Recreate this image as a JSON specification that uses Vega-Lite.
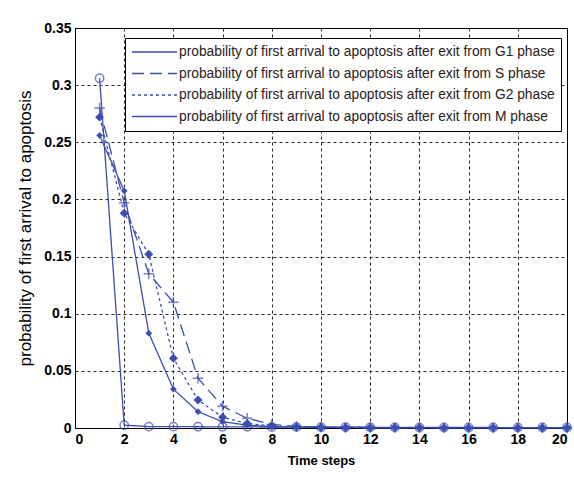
{
  "$schema": "https://vega.github.io/schema/vega-lite/v6.json",
  "width": 492,
  "height": 400,
  "autosize": {"type": "none"},
  "padding": {"left": 75, "top": 28, "right": 7, "bottom": 49},
  "background": "white",
  "config": {
    "view": {"stroke": "black", "strokeWidth": 1},
    "font": "Liberation Sans"
  },
  "data": {
    "values": [
      {"x": 1, "y": 0.306, "series": "G1"}, {"x": 2, "y": 0.0025, "series": "G1"}, {"x": 3, "y": 0.0012, "series": "G1"}, {"x": 4, "y": 0.0012, "series": "G1"}, {"x": 5, "y": 0.0011, "series": "G1"}, {"x": 6, "y": 0.001, "series": "G1"}, {"x": 7, "y": 0.001, "series": "G1"}, {"x": 8, "y": 0.0008, "series": "G1"}, {"x": 9, "y": 0.0008, "series": "G1"}, {"x": 10, "y": 0.0007, "series": "G1"}, {"x": 11, "y": 0.0007, "series": "G1"}, {"x": 12, "y": 0.0006, "series": "G1"}, {"x": 13, "y": 0.0006, "series": "G1"}, {"x": 14, "y": 0.0005, "series": "G1"}, {"x": 15, "y": 0.0005, "series": "G1"}, {"x": 16, "y": 0.0005, "series": "G1"}, {"x": 17, "y": 0.0004, "series": "G1"}, {"x": 18, "y": 0.0004, "series": "G1"}, {"x": 19, "y": 0.0004, "series": "G1"}, {"x": 20, "y": 0.0004, "series": "G1"},
      {"x": 1, "y": 0.280, "series": "S"}, {"x": 2, "y": 0.197, "series": "S"}, {"x": 3, "y": 0.135, "series": "S"}, {"x": 4, "y": 0.110, "series": "S"}, {"x": 5, "y": 0.0435, "series": "S"}, {"x": 6, "y": 0.019, "series": "S"}, {"x": 7, "y": 0.0085, "series": "S"}, {"x": 8, "y": 0.003, "series": "S"}, {"x": 9, "y": 0.0015, "series": "S"}, {"x": 10, "y": 0.0008, "series": "S"}, {"x": 11, "y": 0.0005, "series": "S"}, {"x": 12, "y": 0.0004, "series": "S"}, {"x": 13, "y": 0.0003, "series": "S"}, {"x": 14, "y": 0.0003, "series": "S"}, {"x": 15, "y": 0.0003, "series": "S"}, {"x": 16, "y": 0.0003, "series": "S"}, {"x": 17, "y": 0.0003, "series": "S"}, {"x": 18, "y": 0.0003, "series": "S"}, {"x": 19, "y": 0.0003, "series": "S"}, {"x": 20, "y": 0.0003, "series": "S"},
      {"x": 1, "y": 0.272, "series": "G2"}, {"x": 2, "y": 0.188, "series": "G2"}, {"x": 3, "y": 0.152, "series": "G2"}, {"x": 4, "y": 0.061, "series": "G2"}, {"x": 5, "y": 0.0245, "series": "G2"}, {"x": 6, "y": 0.0095, "series": "G2"}, {"x": 7, "y": 0.004, "series": "G2"}, {"x": 8, "y": 0.0018, "series": "G2"}, {"x": 9, "y": 0.001, "series": "G2"}, {"x": 10, "y": 0.0006, "series": "G2"}, {"x": 11, "y": 0.0005, "series": "G2"}, {"x": 12, "y": 0.0004, "series": "G2"}, {"x": 13, "y": 0.0004, "series": "G2"}, {"x": 14, "y": 0.0004, "series": "G2"}, {"x": 15, "y": 0.0003, "series": "G2"}, {"x": 16, "y": 0.0003, "series": "G2"}, {"x": 17, "y": 0.0003, "series": "G2"}, {"x": 18, "y": 0.0003, "series": "G2"}, {"x": 19, "y": 0.0003, "series": "G2"}, {"x": 20, "y": 0.0003, "series": "G2"},
      {"x": 1, "y": 0.256, "series": "M"}, {"x": 2, "y": 0.2075, "series": "M"}, {"x": 3, "y": 0.083, "series": "M"}, {"x": 4, "y": 0.034, "series": "M"}, {"x": 5, "y": 0.0143, "series": "M"}, {"x": 6, "y": 0.0055, "series": "M"}, {"x": 7, "y": 0.0025, "series": "M"}, {"x": 8, "y": 0.0012, "series": "M"}, {"x": 9, "y": 0.0008, "series": "M"}, {"x": 10, "y": 0.0006, "series": "M"}, {"x": 11, "y": 0.0005, "series": "M"}, {"x": 12, "y": 0.0004, "series": "M"}, {"x": 13, "y": 0.0004, "series": "M"}, {"x": 14, "y": 0.0004, "series": "M"}, {"x": 15, "y": 0.0003, "series": "M"}, {"x": 16, "y": 0.0003, "series": "M"}, {"x": 17, "y": 0.0003, "series": "M"}, {"x": 18, "y": 0.0003, "series": "M"}, {"x": 19, "y": 0.0003, "series": "M"}, {"x": 20, "y": 0.0003, "series": "M"}
    ]
  },
  "encoding": {
    "x": {
      "field": "x", "type": "quantitative",
      "scale": {"domain": [0, 20], "nice": false, "zero": false},
      "axis": {
        "title": "Time steps", "titleFont": "Liberation Sans", "titleFontSize": 13, "titleFontWeight": "bold", "titleColor": "black", "titlePadding": 8,
        "values": [0, 2, 4, 6, 8, 10, 12, 14, 16, 18, 20],
        "labelFont": "Liberation Sans", "labelFontSize": 14, "labelFontWeight": "bold", "labelColor": "black", "labelPadding": 4,
        "ticks": false, "domainColor": "black",
        "grid": true, "gridColor": "black", "gridDash": [3, 3], "gridOpacity": 0.85, "gridWidth": 1
      }
    },
    "y": {
      "field": "y", "type": "quantitative",
      "scale": {"domain": [0, 0.35], "nice": false},
      "axis": {
        "title": "probability of first arrival to apoptosis", "titleFont": "Liberation Sans", "titleFontSize": 17, "titleFontWeight": "normal", "titleColor": "black", "titlePadding": 9,
        "values": [0, 0.05, 0.1, 0.15, 0.2, 0.25, 0.3, 0.35], "format": ".2~f",
        "labelFont": "Liberation Sans", "labelFontSize": 14, "labelFontWeight": "bold", "labelColor": "black", "labelPadding": 4,
        "ticks": false, "domainColor": "black",
        "grid": true, "gridColor": "black", "gridDash": [3, 3], "gridOpacity": 0.85, "gridWidth": 1
      }
    }
  },
  "layer": [
    {
      "mark": {"type": "line", "color": "#3b4db0", "strokeWidth": 1.3},
      "encoding": {
        "detail": {"field": "series"},
        "strokeDash": {
          "field": "series", "type": "nominal",
          "scale": {"domain": ["G1", "S", "G2", "M"], "range": [[1, 0], [12, 6], [3, 3], [1, 0]]},
          "legend": {
            "title": null, "orient": "none", "legendX": 50, "legendY": 10,
            "labelExpr": "'probability of first arrival to apoptosis after exit from ' + datum.label + ' phase'",
            "labelLimit": 0,
            "symbolType": "stroke", "symbolSize": 2025, "symbolStrokeWidth": 1.3, "symbolStrokeColor": "#3b4db0",
            "clipHeight": 16,
            "labelFont": "Liberation Sans", "labelFontSize": 13.8, "labelColor": "#2a2018", "labelOffset": 1,
            "fillColor": "white", "strokeColor": "black", "padding": 6, "rowPadding": 5.5
          }
        }
      }
    },
    {
      "transform": [{"filter": "datum.series === 'G1' || datum.series === 'S'"}],
      "mark": {"type": "point", "filled": false, "color": "#3b4db0", "strokeWidth": 1.5},
      "encoding": {
        "shape": {"field": "series", "type": "nominal", "scale": {"domain": ["G1", "S"], "range": ["circle", "M-1,0H1M0,-1V1"]}, "legend": null},
        "size": {"field": "series", "type": "nominal", "scale": {"domain": ["G1", "S"], "range": [70, 110]}, "legend": null}
      }
    },
    {
      "transform": [{"filter": "datum.series === 'G2' || datum.series === 'M'"}],
      "mark": {"type": "point", "filled": true, "color": "#3b4db0", "opacity": 1},
      "encoding": {
        "shape": {"field": "series", "type": "nominal", "scale": {"domain": ["G2", "M"], "range": ["diamond", "diamond"]}, "legend": null},
        "size": {"field": "series", "type": "nominal", "scale": {"domain": ["G2", "M"], "range": [80, 45]}, "legend": null}
      }
    }
  ],
  "resolve": {"scale": {"shape": "independent", "size": "independent"}}
}
